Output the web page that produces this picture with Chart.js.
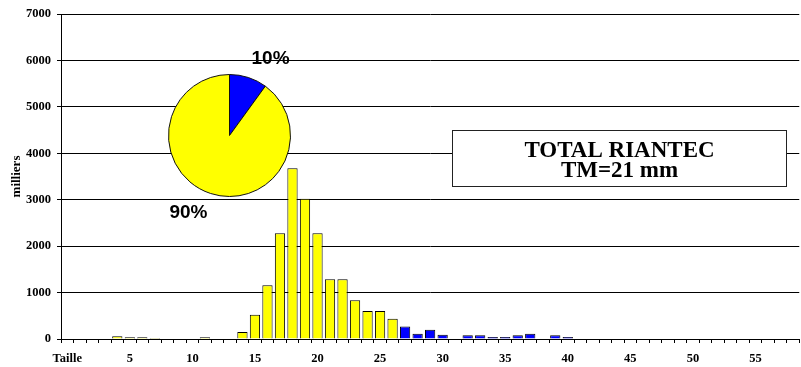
<!DOCTYPE html>
<html>
<head>
<meta charset="utf-8">
<script src="https://cdn.jsdelivr.net/npm/chart.js@4/dist/chart.umd.min.js"></script>
<style>
  html, body { margin: 0; padding: 0; background: #fff; }
  #wrap { position: relative; width: 801px; height: 367px; }
  #bars, #pie { position: absolute; left: 0; top: 0; }
  #pie { pointer-events: none; }
</style>
</head>
<body>
<div id="wrap">
  <canvas id="bars" width="801" height="367"></canvas>
  <canvas id="pie" width="801" height="367"></canvas>
</div>
<script>
// Size classes (mm) on the x axis; the first slot carries the axis name
const categories = ['Taille',
  '1','2','3','4','5','6','7','8','9','10',
  '11','12','13','14','15','16','17','18','19','20',
  '21','22','23','24','25','26','27','28','29','30',
  '31','32','33','34','35','36','37','38','39','40',
  '41','42','43','44','45','46','47','48','49','50',
  '51','52','53','54','55','56','57','58'];
const tickLabels = ['Taille','5','10','15','20','25','30','35','40','45','50','55'];

// Numbers per size class (milliers), below 27 mm
const smallSizes  = ['4','5','6','7','11','14','15','16','17','18','19','20','21','22','23','24','25','26'];
const smallValues = [57, 36, 36, 20, 36, 151, 520, 1157, 2276, 3676, 3022, 2276, 1285, 1285, 833, 603, 605, 438];

// Numbers per size class (milliers), 27 mm and above
const largeSizes  = ['27','28','29','30','32','33','34','35','36','37','39','40'];
const largeValues = [270, 115, 201, 93, 79, 79, 43, 43, 79, 115, 79, 43];

// Share of the total (%), large then small
const pieLabels = ['10%', '90%'];
const pieValues = [10, 90];

const titleLines = ['TOTAL RIANTEC', 'TM=21 mm'];

const YELLOW = '#FFFF00';
const BLUE = '#0000FF';
const axisFont = { family: 'Liberation Serif', weight: 'bold', size: 12.5 };

// Framed caption drawn over the grid
const captionBox = {
  id: 'captionBox',
  afterDatasetsDraw(chart) {
    const c = chart.ctx;
    const x = 452, y = 130, w = 335, h = 57;
    c.save();
    c.fillStyle = '#fff';
    c.fillRect(x, y, w, h);
    c.strokeStyle = '#222';
    c.lineWidth = 1;
    c.strokeRect(x + 0.5, y + 0.5, w - 1, h - 1);
    c.fillStyle = '#000';
    c.textAlign = 'center';
    c.textBaseline = 'alphabetic';
    c.font = 'bold 23px "Liberation Serif"';
    c.fillText(titleLines[0], x + w / 2, 157);
    c.fillText(titleLines[1], x + w / 2, 177);
    c.restore();
  }
};

new Chart(document.getElementById('bars'), {
  type: 'bar',
  data: {
    labels: categories,
    datasets: [
      {
        label: '< 27 mm',
        data: smallSizes.map((s, i) => ({ x: s, y: smallValues[i] })),
        backgroundColor: YELLOW,
        borderColor: '#000',
        borderWidth: 1,
        borderSkipped: 'bottom',
        barPercentage: 0.82,
        categoryPercentage: 1
      },
      {
        label: '>= 27 mm',
        data: largeSizes.map((s, i) => ({ x: s, y: largeValues[i] })),
        backgroundColor: BLUE,
        borderColor: '#000',
        borderWidth: 1,
        borderSkipped: 'bottom',
        barPercentage: 0.82,
        categoryPercentage: 1
      }
    ]
  },
  options: {
    responsive: false,
    animation: false,
    layout: { padding: { top: 14, right: 0, bottom: 0, left: 0 } },
    plugins: { legend: { display: false }, tooltip: { enabled: false } },
    scales: {
      x: {
        stacked: true,
        offset: true,
        grid: { display: true, drawOnChartArea: false, drawTicks: true, tickLength: 4, color: '#000', offset: true },
        border: { display: true, color: '#000', width: 1 },
        ticks: {
          autoSkip: false,
          maxRotation: 0,
          padding: 8,
          color: '#000',
          font: axisFont,
          callback: (v, i) => tickLabels.includes(categories[i]) ? categories[i] : ''
        },
        afterFit: s => { s.height = 28; }
      },
      y: {
        stacked: true,
        min: 0,
        max: 7000,
        ticks: { stepSize: 1000, padding: 6, color: '#000', font: axisFont, callback: v => String(v) },
        grid: { color: '#000', lineWidth: 1, tickLength: 4 },
        border: { color: '#000', width: 1 },
        title: {
          display: true,
          text: 'milliers',
          color: '#000',
          font: { family: 'Liberation Serif', weight: 'bold', size: 13 },
          padding: { top: 9, bottom: 0 }
        },
        afterFit: s => { s.width = 61; }
      }
    }
  },
  plugins: [captionBox]
});

// Percentage labels placed just outside each slice
const sliceLabels = {
  id: 'sliceLabels',
  afterDatasetsDraw(chart) {
    const c = chart.ctx;
    const arcs = chart.getDatasetMeta(0).data;
    c.save();
    c.fillStyle = '#000';
    c.font = 'bold 19px "Liberation Sans"';
    c.textBaseline = 'middle';
    arcs.forEach((arc, i) => {
      const mid = (arc.startAngle + arc.endAngle) / 2;
      const r = arc.outerRadius + 20;
      const px = arc.x + Math.cos(mid) * r;
      const py = arc.y + Math.sin(mid) * r;
      c.textAlign = 'center';
      c.fillText(pieLabels[i], px + Math.sign(Math.cos(mid)) * 16, py);
    });
    c.restore();
  }
};

// Pie centred at about (229.5, 135.5) with a 61 px radius
new Chart(document.getElementById('pie'), {
  type: 'pie',
  data: {
    labels: pieLabels,
    datasets: [{
      data: pieValues,
      backgroundColor: [BLUE, YELLOW],
      borderColor: '#111',
      borderWidth: 1
    }]
  },
  options: {
    responsive: false,
    animation: false,
    events: [],
    layout: { padding: { left: 168, top: 74, right: 510, bottom: 170 } },
    plugins: { legend: { display: false }, tooltip: { enabled: false } }
  },
  plugins: [sliceLabels]
});
</script>
</body>
</html>
